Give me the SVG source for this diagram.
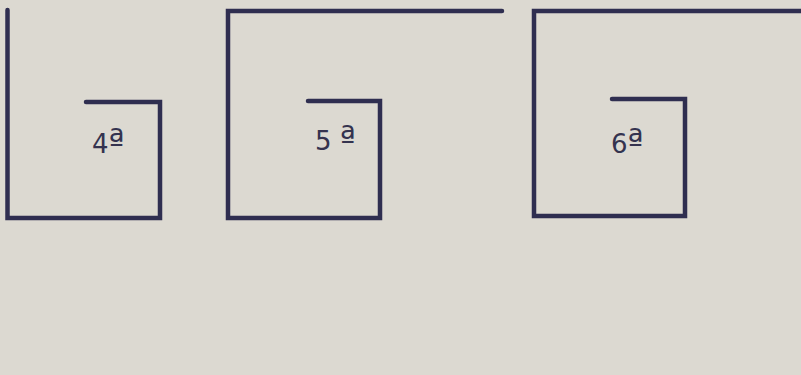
<svg xmlns="http://www.w3.org/2000/svg" width="801" height="375" viewBox="0 0 801 375">
<style>
.bg{fill:#dcd9d1}
.ln{fill:none;stroke:#2f2e50;stroke-width:4.5;stroke-linecap:round;stroke-linejoin:miter}
.lb{font-family:"DejaVu Sans","Liberation Sans",sans-serif;font-size:26px;fill:#34334f}
.sup{font-size:34px}
</style>
<rect class="bg" x="0" y="0" width="801" height="375"/>
<g id="shape-4">
<path class="ln" d="M7.5,10 V218 H160 V102 H86"/>
<text class="lb" x="92" y="153">4<tspan class="sup">ª</tspan></text>
</g>
<g id="shape-5">
<path class="ln" d="M502,11 H228 V218 H380 V101 H308"/>
<text class="lb" x="315" y="150">5 <tspan class="sup">ª</tspan></text>
</g>
<g id="shape-6">
<path class="ln" d="M803,11 H534 V216 H685 V99 H612"/>
<text class="lb" x="611" y="153">6<tspan class="sup">ª</tspan></text>
</g>
</svg>
